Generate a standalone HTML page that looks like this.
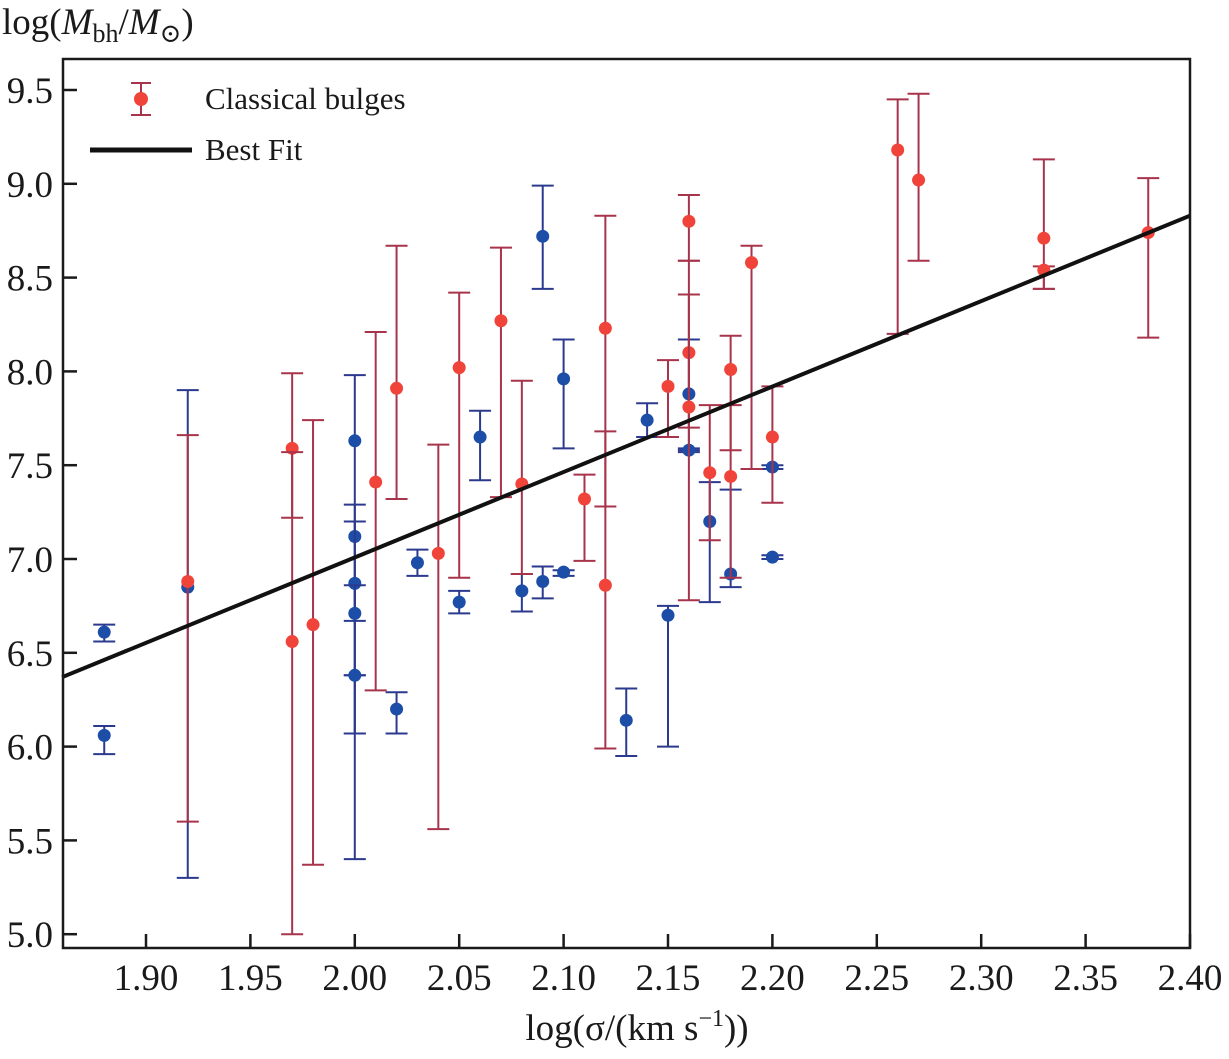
<!DOCTYPE html>
<html><head><meta charset="utf-8"><style>
body{margin:0;background:#fff}
text,tspan{font-family:"Liberation Serif","DejaVu Serif",serif !important;fill:#1a1a1a}
</style></head><body>
<svg id="chart" width="1229" height="1054" xmlns="http://www.w3.org/2000/svg" font-family="Liberation Serif, serif">
<g id="marks"></g>
<rect x="63" y="59" width="1127" height="889" fill="none" stroke="#1a1a1a" stroke-width="2.5"/>
<g id="axes"></g>
<text x="2" y="34" font-size="37" font-family="Liberation Serif, serif">log(<tspan font-style="italic">M</tspan><tspan font-size="26" dy="8">bh</tspan><tspan dy="-8">/</tspan><tspan font-style="italic">M</tspan><tspan font-size="26" dy="8">⊙</tspan><tspan dy="-8">)</tspan></text>
<text x="637" y="1040" font-size="37" text-anchor="middle" font-family="Liberation Serif, serif">log(σ/(km s<tspan font-size="24" dy="-14">−1</tspan><tspan dy="14">))</tspan></text>
<g>
<line x1="141" y1="83" x2="141" y2="115" stroke="#a8344c" stroke-width="2"/>
<line x1="131" y1="83" x2="151" y2="83" stroke="#a8344c" stroke-width="2"/>
<line x1="131" y1="115" x2="151" y2="115" stroke="#a8344c" stroke-width="2"/>
<circle cx="141" cy="99" r="7" fill="#f0443a"/>
<text x="205" y="109" font-size="31" font-family="Liberation Serif, serif">Classical bulges</text>
<line x1="90" y1="150" x2="192" y2="150" stroke="#111" stroke-width="5"/>
<text x="205" y="160" font-size="31" font-family="Liberation Serif, serif">Best Fit</text>
</g>
</svg>
<script>
const xTicks=[1.90,1.95,2.00,2.05,2.10,2.15,2.20,2.25,2.30,2.35,2.40];
const xTickLabels=["1.90","1.95","2.00","2.05","2.10","2.15","2.20","2.25","2.30","2.35","2.40"];
const yTicks=[5.0,5.5,6.0,6.5,7.0,7.5,8.0,8.5,9.0,9.5];
const yTickLabels=["5.0","5.5","6.0","6.5","7.0","7.5","8.0","8.5","9.0","9.5"];
const redX=[1.92,1.97,1.97,1.98,2.01,2.02,2.04,2.05,2.07,2.08,2.11,2.12,2.12,2.15,2.16,2.16,2.16,2.17,2.18,2.18,2.19,2.20,2.26,2.27,2.33,2.33,2.38];
const redY=[6.88,7.59,6.56,6.65,7.41,7.91,7.03,8.02,8.27,7.40,7.32,8.23,6.86,7.92,8.80,8.10,7.81,7.46,8.01,7.44,8.58,7.65,9.18,9.02,8.71,8.54,8.74];
const redLo=[5.60,7.22,5.00,5.37,6.30,7.32,5.56,6.90,7.33,6.92,6.99,7.28,5.99,7.65,8.59,7.70,6.78,7.10,7.58,6.90,7.48,7.30,8.20,8.59,8.44,8.44,8.18];
const redHi=[7.66,7.99,7.57,7.74,8.21,8.67,7.61,8.42,8.66,7.95,7.45,8.83,7.68,8.06,8.94,8.41,8.59,7.82,8.19,7.82,8.67,7.92,9.45,9.48,9.13,8.56,9.03];
const blueX=[1.88,1.88,1.92,2.00,2.00,2.00,2.00,2.00,2.02,2.03,2.05,2.06,2.08,2.09,2.09,2.10,2.10,2.13,2.14,2.15,2.16,2.16,2.17,2.18,2.20,2.20];
const blueY=[6.61,6.06,6.85,7.63,7.12,6.87,6.71,6.38,6.20,6.98,6.77,7.65,6.83,8.72,6.88,7.96,6.93,6.14,7.74,6.70,7.88,7.58,7.20,6.92,7.49,7.01];
const blueLo=[6.56,5.96,5.30,5.40,6.07,6.67,6.07,6.38,6.07,6.91,6.71,7.42,6.72,8.44,6.79,7.59,6.91,5.95,7.65,6.00,7.58,7.57,6.77,6.85,7.48,7.00];
const blueHi=[6.65,6.11,7.90,7.98,7.29,7.20,6.86,6.38,6.29,7.05,6.83,7.79,6.92,8.99,6.96,8.17,6.94,6.31,7.83,6.75,8.17,7.59,7.41,7.37,7.50,7.02];
const fitX=[1.8598,2.40];
const fitY=[6.37,8.83];
const X=v=>146+(v-1.90)/0.05*104.4;
const Y=v=>90+(9.5-v)/0.5*93.8;
const NS="http://www.w3.org/2000/svg";
const ax=document.getElementById('axes'),mk=document.getElementById('marks');
function el(t,a,p){const e=document.createElementNS(NS,t);for(const k in a)e.setAttribute(k,a[k]);p.appendChild(e);return e;}
xTicks.forEach((v,i)=>{
 const l=el('line',{x1:X(v),x2:X(v),y1:948,y2:934,stroke:'#1a1a1a','stroke-width':2.5},ax);
 
 
 const t=el('text',{x:X(v),y:990,'font-size':37,'text-anchor':'middle','font-family':'Liberation Serif, serif'},ax);t.textContent=xTickLabels[i];
 
 
});
yTicks.forEach((v,i)=>{
 const l=el('line',{x1:63,x2:77,y1:Y(v),y2:Y(v),stroke:'#1a1a1a','stroke-width':2.5},ax);
 
 
 const t=el('text',{x:53,y:Y(v)+13,'font-size':37,'text-anchor':'end','font-family':'Liberation Serif, serif'},ax);t.textContent=yTickLabels[i];
 
 
});
function series(xs,ys,lo,hi,ec,fc,name){
 xs.forEach((x,i)=>{
  const g=el('g',{},mk);
  
  
  const cx=X(x);
  el('line',{x1:cx,x2:cx,y1:Y(lo[i]),y2:Y(hi[i]),stroke:ec,'stroke-width':2},g);
  el('line',{x1:cx-11,x2:cx+11,y1:Y(lo[i]),y2:Y(lo[i]),stroke:ec,'stroke-width':2},g);
  el('line',{x1:cx-11,x2:cx+11,y1:Y(hi[i]),y2:Y(hi[i]),stroke:ec,'stroke-width':2},g);
  el('circle',{cx:cx,cy:Y(ys[i]),r:6.5,fill:fc},g);
 });
}
series(blueX,blueY,blueLo,blueHi,'#2b3a8e','#1c4ea8','blue');
series(redX,redY,redLo,redHi,'#a8344c','#f0443a','classical-bulge');
const f=el('line',{x1:X(fitX[0]),y1:Y(fitY[0]),x2:X(fitX[1]),y2:Y(fitY[1]),stroke:'#111','stroke-width':4},mk);


</script>
</body></html>
